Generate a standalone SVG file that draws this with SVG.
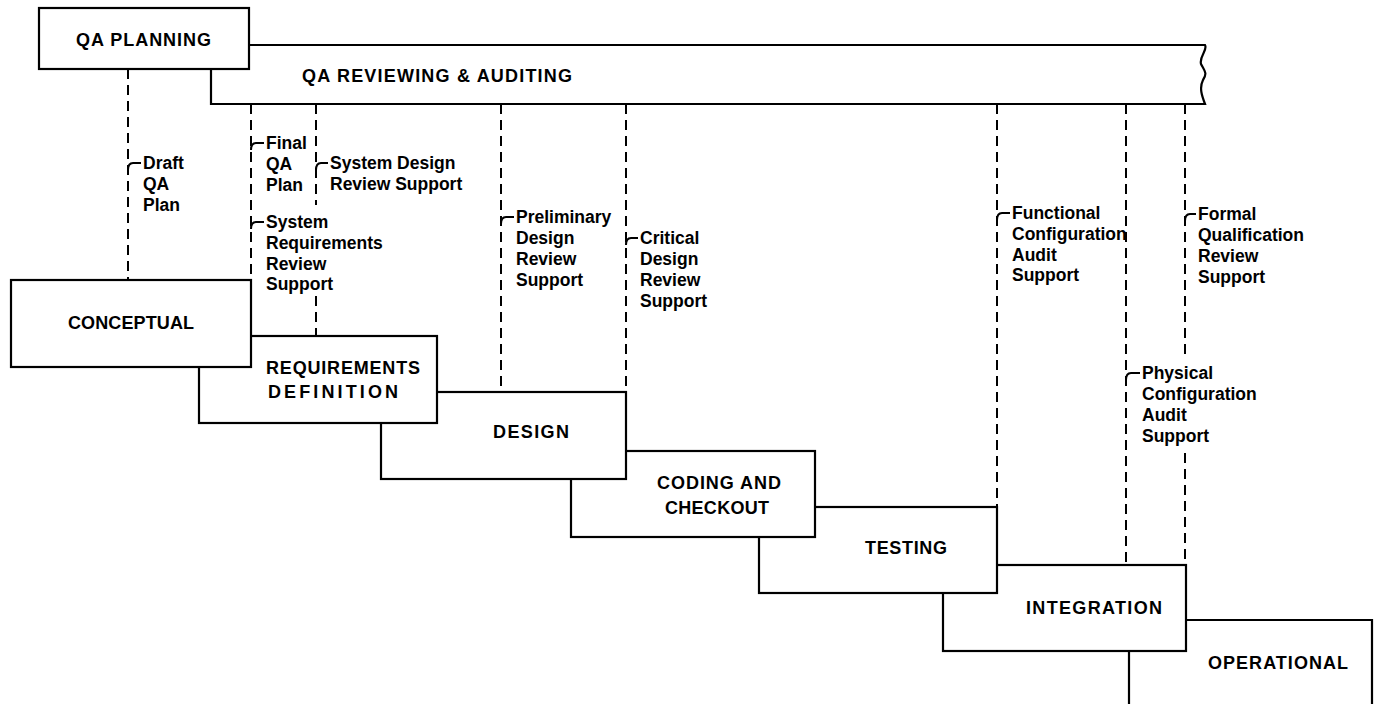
<svg xmlns="http://www.w3.org/2000/svg" width="1379" height="704" viewBox="0 0 1379 704">
<style>
.box{fill:#fff;stroke:#000;stroke-width:2.2}
.dash{fill:none;stroke:#000;stroke-width:2;stroke-dasharray:10 6}
.tick{fill:none;stroke:#000;stroke-width:2}
.cap{font-family:"Liberation Sans",Arial,sans-serif;font-weight:bold;font-size:18px;fill:#000}
.lbl{font-family:"Liberation Sans",Arial,sans-serif;font-weight:bold;font-size:17.5px;fill:#000}
</style>
<rect width="1379" height="704" fill="#fff"/>
<g id="connectors">
<line class="dash" x1="128" y1="69" x2="128" y2="280"/>
<line class="dash" x1="251" y1="104" x2="251" y2="280"/>
<line class="dash" x1="316" y1="104" x2="316" y2="205"/>
<line class="dash" x1="316" y1="296" x2="316" y2="336"/>
<line class="dash" x1="501" y1="104" x2="501" y2="392"/>
<line class="dash" x1="626" y1="104" x2="626" y2="392"/>
<line class="dash" x1="997" y1="104" x2="997" y2="507"/>
<line class="dash" x1="1126" y1="104" x2="1126" y2="565"/>
<line class="dash" x1="1185" y1="104" x2="1185" y2="357"/>
<line class="dash" x1="1185" y1="453" x2="1185" y2="565"/>
<path class="tick" d="M128,170 Q128,163 133,163 L141,163"/>
<path class="tick" d="M251,150 Q251,143 256,143 L264,143"/>
<path class="tick" d="M316,170 Q316,163 321,163 L328,163"/>
<path class="tick" d="M251,229 Q251,222 256,222 L264,222"/>
<path class="tick" d="M501,224 Q501,217 506,217 L514,217"/>
<path class="tick" d="M626,245 Q626,238 631,238 L638,238"/>
<path class="tick" d="M997,220 Q997,213 1002,213 L1010,213"/>
<path class="tick" d="M1185,221 Q1185,214 1190,214 L1196,214"/>
<path class="tick" d="M1126,380 Q1126,373 1131,373 L1140,373"/>
</g>
<g id="labels">
<text class="lbl" x="143" y="169">Draft</text>
<text class="lbl" x="143" y="190">QA</text>
<text class="lbl" x="143" y="211">Plan</text>
<text class="lbl" x="266" y="149">Final</text>
<text class="lbl" x="266" y="170">QA</text>
<text class="lbl" x="266" y="191">Plan</text>
<text class="lbl" x="330" y="169">System Design</text>
<text class="lbl" x="330" y="190">Review Support</text>
<text class="lbl" x="266" y="228">System</text>
<text class="lbl" x="266" y="249">Requirements</text>
<text class="lbl" x="266" y="270">Review</text>
<text class="lbl" x="266" y="290">Support</text>
<text class="lbl" x="516" y="223">Preliminary</text>
<text class="lbl" x="516" y="244">Design</text>
<text class="lbl" x="516" y="265">Review</text>
<text class="lbl" x="516" y="286">Support</text>
<text class="lbl" x="640" y="244">Critical</text>
<text class="lbl" x="640" y="265">Design</text>
<text class="lbl" x="640" y="286">Review</text>
<text class="lbl" x="640" y="307">Support</text>
<text class="lbl" x="1012" y="219">Functional</text>
<text class="lbl" x="1012" y="240">Configuration</text>
<text class="lbl" x="1012" y="261">Audit</text>
<text class="lbl" x="1012" y="281">Support</text>
<text class="lbl" x="1198" y="220">Formal</text>
<text class="lbl" x="1198" y="241">Qualification</text>
<text class="lbl" x="1198" y="262">Review</text>
<text class="lbl" x="1198" y="283">Support</text>
<text class="lbl" x="1142" y="379">Physical</text>
<text class="lbl" x="1142" y="400">Configuration</text>
<text class="lbl" x="1142" y="421">Audit</text>
<text class="lbl" x="1142" y="442">Support</text>
</g>
<g id="operational">
<path class="box" d="M1129,706 L1129,620 L1372,620 L1372,706"/>
<text class="cap" x="1208" y="669" textLength="140" lengthAdjust="spacing">OPERATIONAL</text>
</g>
<g id="integration">
<rect class="box" x="943" y="565" width="243" height="86"/>
<text class="cap" x="1026" y="614" textLength="136" lengthAdjust="spacing">INTEGRATION</text>
</g>
<g id="testing">
<rect class="box" x="759" y="507" width="238" height="86"/>
<text class="cap" x="865" y="554" textLength="82" lengthAdjust="spacing">TESTING</text>
</g>
<g id="coding">
<rect class="box" x="571" y="451" width="244" height="86"/>
<text class="cap" x="657" y="489" textLength="124" lengthAdjust="spacing">CODING AND</text>
<text class="cap" x="665" y="514" textLength="104" lengthAdjust="spacing">CHECKOUT</text>
</g>
<g id="design">
<rect class="box" x="381" y="392" width="245" height="87"/>
<text class="cap" x="493" y="438" textLength="76" lengthAdjust="spacing">DESIGN</text>
</g>
<g id="requirements">
<rect class="box" x="199" y="336" width="238" height="87"/>
<text class="cap" x="266" y="374" textLength="154" lengthAdjust="spacing">REQUIREMENTS</text>
<text class="cap" x="268" y="398" textLength="130" lengthAdjust="spacing">DEFINITION</text>
</g>
<g id="conceptual">
<rect class="box" x="11" y="280" width="240" height="87"/>
<text class="cap" x="68" y="329" textLength="126" lengthAdjust="spacing">CONCEPTUAL</text>
</g>
<g id="qa-reviewing">
<path class="box" d="M211,69 L211,104 L1205,104 C1202,96 1199,88 1203,80 C1208,73 1204,70 1201,64 C1199,56 1208,50 1205,45 L249,45"/>
<text class="cap" x="302" y="82" textLength="270" lengthAdjust="spacing">QA REVIEWING &amp; AUDITING</text>
</g>
<g id="qa-planning">
<rect class="box" x="39" y="8" width="210" height="61"/>
<text class="cap" x="76" y="46" textLength="135" lengthAdjust="spacing">QA PLANNING</text>
</g>
</svg>
